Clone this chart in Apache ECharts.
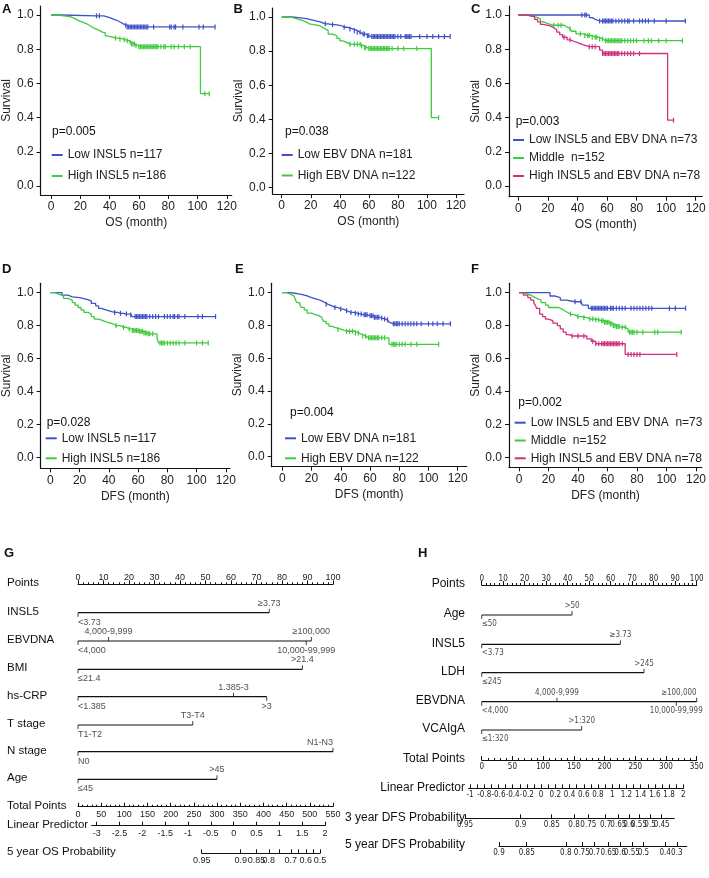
<!DOCTYPE html>
<html><head><meta charset="utf-8">
<script src="https://cdn.jsdelivr.net/npm/echarts@6/dist/echarts.min.js"></script>
<style>html,body{margin:0;padding:0;background:#fff}#c{width:709px;height:878px}</style>
</head><body><div id="c"></div>
<script>
// ===================== DATA =====================
const monthTicks = [0, 20, 40, 60, 80, 100, 120];
const survTicks = [0, 0.2, 0.4, 0.6, 0.8, 1.0];

// Panel A (OS by INSL5)
const A_lowEv = [[7,0.995],[36,0.985],[40,0.975],[43,0.965],[46,0.955],[48,0.945],[50,0.94],[52,0.93]];
const A_lowCens = [31,33,51,52,53,54,55,56,57,58,59,60,61,62,63,64,65,66,70,81,82,84,85,90,101,104,112];
const A_highEv = [[4,0.995],[9,0.99],[13,0.98],[16,0.97],[18,0.96],[21,0.95],[24,0.94],[26,0.93],[28,0.92],[30,0.91],[33,0.90],[35,0.895],[37,0.88],[38,0.87],[42,0.865],[46,0.86],[49,0.855],[51,0.85],[53,0.84],[55,0.83],[58,0.82],[60,0.815],[102,0.54]];
const A_highCens = [44,47,50,52,54,55,56,57,58,60,61,62,63,64,65,66,67,68,69,70,71,72,73,75,77,78,82,84,87,91,95,105,108];
// Panel B (OS by EBV DNA)
const B_lowEv = [[7,0.995],[13,0.99],[17,0.98],[22,0.97],[27,0.96],[32,0.955],[37,0.95],[41,0.94],[45,0.935],[47,0.93],[49,0.92],[52,0.91],[55,0.90],[58,0.89],[61,0.885]];
const B_lowCens = [30,35,43,47,50,52,54,56,57,59,60,62,63,64,65,66,67,68,69,70,71,72,73,74,75,76,77,78,80,82,85,86,87,88,89,95,100,104,108,112,116];
const B_highEv = [[6,0.99],[10,0.98],[14,0.97],[17,0.96],[19,0.95],[26,0.94],[28,0.93],[30,0.92],[32,0.90],[35,0.89],[38,0.875],[40,0.86],[42,0.85],[45,0.84],[55,0.83],[57,0.82],[59,0.815],[103,0.41]];
const B_highCens = [47,50,52,54,55,57,58,60,61,62,63,64,65,66,67,68,69,70,71,72,73,74,76,80,84,93,108];
// Panel C (OS combined)
const C_lowEv = [[48,0.985],[50,0.975],[52,0.965]];
const C_lowCens = [43,45,46,55,57,58,59,60,61,62,63,64,66,68,70,72,74,75,78,82,84,86,88,92,100,113];
const C_midEv = [[6,0.993],[9,0.986],[13,0.975],[15,0.96],[17,0.95],[20,0.94],[31,0.93],[33,0.92],[36,0.905],[39,0.89],[44,0.88],[50,0.87],[54,0.86],[58,0.85]];
const C_midCens = [24,27,29,35,42,45,47,48,50,52,53,55,57,59,60,61,62,63,64,65,66,67,68,69,70,72,74,76,78,80,85,88,90,95,100,111];
const C_highEv = [[6,0.99],[11,0.975],[13,0.96],[15,0.945],[17,0.935],[22,0.925],[24,0.915],[26,0.90],[28,0.885],[30,0.87],[33,0.855],[36,0.845],[38,0.835],[41,0.825],[44,0.815],[55,0.795],[57,0.775],[101,0.385]];
const C_highCens = [31,35,48,50,52,57,58,59,60,61,62,63,64,65,66,67,68,70,72,74,76,78,82,105];
// Panel D (DFS by INSL5)
const D_lowEv = [[8,0.985],[12,0.975],[15,0.97],[20,0.96],[25,0.95],[28,0.935],[31,0.92],[33,0.905],[35,0.895],[38,0.885],[42,0.88],[46,0.875],[50,0.87],[55,0.865],[56,0.855]];
const D_lowCens = [44,48,52,55,58,59,60,61,62,63,64,65,66,68,70,72,74,78,80,82,84,85,87,88,92,101,104,113];
const D_highEv = [[3,0.99],[6,0.98],[9,0.965],[12,0.955],[15,0.94],[17,0.925],[19,0.91],[21,0.895],[23,0.88],[26,0.87],[28,0.855],[30,0.84],[33,0.83],[36,0.82],[39,0.81],[43,0.80],[48,0.79],[52,0.78],[56,0.77],[61,0.765],[64,0.755],[67,0.75],[73,0.72],[74,0.695]];
const D_highCens = [45,50,54,56,57,58,59,60,61,62,63,64,65,66,67,68,70,75,76,77,78,80,82,84,86,88,92,100,104,108];
// Panel E (DFS by EBV DNA)
const E_lowEv = [[5,0.995],[10,0.99],[13,0.98],[17,0.97],[20,0.96],[24,0.95],[27,0.94],[29,0.93],[31,0.92],[34,0.91],[38,0.90],[42,0.89],[45,0.88],[49,0.875],[51,0.87],[55,0.865],[59,0.86],[63,0.85],[67,0.845],[69,0.84],[71,0.835],[73,0.82],[74,0.81]];
const E_lowCens = [30,36,40,44,47,50,52,54,56,57,58,60,61,62,63,64,65,66,68,70,72,76,77,78,79,80,82,84,86,88,90,92,95,100,103,106,110,115];
const E_highEv = [[3,0.99],[6,0.98],[8,0.97],[9,0.955],[10,0.94],[12,0.925],[13,0.91],[15,0.895],[17,0.875],[20,0.865],[23,0.86],[25,0.85],[27,0.84],[28,0.825],[30,0.81],[32,0.795],[34,0.785],[37,0.775],[41,0.765],[50,0.755],[53,0.745],[55,0.735],[58,0.725],[73,0.685]];
const E_highCens = [38,44,46,48,50,52,55,57,59,60,61,62,63,64,65,66,68,70,75,76,77,78,80,82,84,88,92,107];
// Panel F (DFS combined)
const F_lowEv = [[21,0.98],[24,0.97],[28,0.955],[32,0.945],[43,0.925],[47,0.905]];
const F_lowCens = [38,42,49,50,51,52,53,54,55,56,57,58,59,60,62,63,64,66,68,70,72,76,78,80,82,84,86,88,90,102,106,113];
const F_midEv = [[2,0.995],[5,0.985],[8,0.975],[10,0.965],[12,0.955],[15,0.94],[18,0.925],[20,0.91],[27,0.90],[29,0.89],[31,0.88],[33,0.87],[36,0.865],[38,0.855],[42,0.85],[46,0.84],[52,0.835],[55,0.83],[58,0.82],[62,0.81],[64,0.80],[66,0.795],[69,0.79],[73,0.78],[74,0.76]];
const F_midCens = [35,40,44,48,50,52,54,56,57,58,59,60,61,62,63,64,65,66,67,68,70,72,75,76,77,78,80,84,92,94,110];
const F_highEv = [[3,0.985],[6,0.97],[8,0.955],[10,0.94],[11,0.925],[12,0.905],[14,0.87],[16,0.855],[18,0.84],[20,0.83],[23,0.815],[26,0.80],[28,0.78],[30,0.76],[32,0.745],[34,0.737],[46,0.72],[49,0.705],[52,0.69],[72,0.625]];
const F_highCens = [36,40,44,50,52,54,56,57,58,59,60,61,62,63,64,65,66,67,68,70,74,76,78,80,82,107];

// Nomogram G (5-year OS)
const G_vars = [
  {name:'INSL5',   levels:['<3.73','≥3.73'], pts:[0,75]},
  {name:'EBVDNA',  levels:['<4,000','4,000-9,999','10,000-99,999','≥100,000'], pts:[0,12,89.5,91.5]},
  {name:'BMI',     levels:['≤21.4','>21.4'], pts:[0,88]},
  {name:'hs-CRP',  levels:['<1.385','1.385-3','>3'], pts:[0,61,74]},
  {name:'T stage', levels:['T1-T2','T3-T4'], pts:[0,45]},
  {name:'N stage', levels:['N0','N1-N3'], pts:[0,100]},
  {name:'Age',     levels:['≤45','>45'], pts:[0,54.5]}
];
const G_totalMax = 550;
const G_lpLabels = [-3,-2.5,-2,-1.5,-1,-0.5,0,0.5,1,1.5,2];
const G_lpTicks = [-3,-2.5,-2,-1.5,-1,-0.5,0,0.5,1,1.5,2];
const G_lpStart = -3.11;
const G_prob = [
  {name:'5 year OS Probability',
   labels:['0.95','0.9','0.85','0.8','','0.7','','0.6','','0.5'],
   lp:[-0.70,0.154,0.50,0.77,1.0,1.25,1.42,1.58,1.74,1.89]}
];
// Nomogram H (3/5-year DFS)
const H_vars = [
  {name:'Age',    levels:['≤50','>50'], pts:[0,42]},
  {name:'INSL5',  levels:['<3.73','≥3.73'], pts:[0,64.5]},
  {name:'LDH',    levels:['≤245','>245'], pts:[0,75.5]},
  {name:'EBVDNA', levels:['<4,000','4,000-9,999','10,000-99,999','≥100,000'], pts:[0,35,90.5,100]},
  {name:'VCAIgA', levels:['≤1:320','>1:320'], pts:[0,46.5]}
];
const H_totalMax = 350;
const H_lpLabels = [-1,-0.8,-0.6,-0.4,-0.2,0,0.2,0.4,0.6,0.8,1,1.2,1.4,1.6,1.8,2];
const H_lpTicks = [-1,-0.9,-0.8,-0.7,-0.6,-0.5,-0.4,-0.3,-0.2,-0.1,0,0.1,0.2,0.3,0.4,0.5,0.6,0.7,0.8,0.9,1,1.1,1.2,1.3,1.4,1.5,1.6,1.7,1.8,1.9,2];
const H_lpStart = -1.02;
const H_prob = [
  {name:'3 year DFS Probability',
   labels:['0.95','0.9','0.85','0.8','0.75','0.7','0.65','0.6','0.55','0.5','0.45','0.4'],
   lp:[-1.07,-0.287,0.149,0.463,0.664,0.909,1.086,1.236,1.377,1.532,1.696,1.873]},
  {name:'5 year DFS Probability',
   labels:['0.9','0.85','0.8','0.75','0.7','0.65','0.6','0.55','0.5','0.4','0.3','0.25'],
   lp:[-0.592,-0.202,0.347,0.572,0.750,0.947,1.111,1.276,1.439,1.744,1.909,2.049]}
];

// ===================== STYLE / LAYOUT =====================
const FONT = "'Liberation Sans', Arial, sans-serif";
const NARROW = "'Liberation Sans Narrow', 'DejaVu Sans Condensed', sans-serif";
const BLUE = '#3f51c6', GREEN = '#3fca3f', MAGENTA = '#d1307e';
const INK = '#111';
const AX = {color: INK, width: 1};

const panels = [
  {letter:'A', letterXY:[2,3], xName:'OS (month)', p:'p=0.005', pXY:[52,126],
   L:{axisX:37,x0:47.7,x120:226.7,right:231.7,y1:15,y0:186,top:6,bottom:195},
   leg:{left:51.7, top:148, gap:7},
   curves:[{name:'Low INSL5 n=117', color:BLUE, ev:A_lowEv, cens:A_lowCens},
           {name:'High INSL5 n=186', color:GREEN, ev:A_highEv, cens:A_highCens}]},
  {letter:'B', letterXY:[233.5,3], xName:'OS (month)', p:'p=0.038', pXY:[285,126],
   L:{axisX:272.7,x0:281.7,x120:456,right:464,y1:17,y0:187.5,top:8,bottom:194},
   leg:{left:281.7, top:148, gap:6.5},
   curves:[{name:'Low EBV DNA n=181', color:BLUE, ev:B_lowEv, cens:B_lowCens},
           {name:'High EBV DNA n=122', color:GREEN, ev:B_highEv, cens:B_highCens}]},
  {letter:'C', letterXY:[471,3], xName:'OS (month)', p:'p=0.003', pXY:[515.7,115.7],
   L:{axisX:509,x0:518.3,x120:695.7,right:702.3,y1:15,y0:186,top:6,bottom:196.7},
   leg:{left:513, top:133, gap:4},
   curves:[{name:'Low INSL5 and EBV DNA n=73', color:BLUE, ev:C_lowEv, cens:C_lowCens},
           {name:'Middle  n=152', color:GREEN, ev:C_midEv, cens:C_midCens},
           {name:'High INSL5 and EBV DNA n=78', color:MAGENTA, ev:C_highEv, cens:C_highCens}]},
  {letter:'D', letterXY:[2,263], xName:'DFS (month)', p:'p=0.028', pXY:[46.7,416.3],
   L:{axisX:36,x0:46,x120:225.7,right:230,y1:292.7,y0:457.3,top:283.3,bottom:468.3},
   leg:{left:45.7, top:431.3, gap:6},
   curves:[{name:'Low INSL5 n=117', color:BLUE, ev:D_lowEv, cens:D_lowCens},
           {name:'High INSL5 n=186', color:GREEN, ev:D_highEv, cens:D_highCens}]},
  {letter:'E', letterXY:[235,263], xName:'DFS (month)', p:'p=0.004', pXY:[290,407],
   L:{axisX:271.7,x0:282.3,x120:457.7,right:466.7,y1:292.7,y0:456.7,top:283.3,bottom:466.7},
   leg:{left:285, top:431.3, gap:6},
   curves:[{name:'Low EBV DNA n=181', color:BLUE, ev:E_lowEv, cens:E_lowCens},
           {name:'High EBV DNA n=122', color:GREEN, ev:E_highEv, cens:E_highCens}]},
  {letter:'F', letterXY:[471,263], xName:'DFS (month)', p:'p=0.002', pXY:[518.3,397],
   L:{axisX:509,x0:519,x120:696.3,right:702.3,y1:292.7,y0:457.3,top:283.3,bottom:467.3},
   leg:{left:514.7, top:415.7, gap:3.8},
   curves:[{name:'Low INSL5 and EBV DNA  n=73', color:BLUE, ev:F_lowEv, cens:F_lowCens},
           {name:'Middle  n=152 ', color:GREEN, ev:F_midEv, cens:F_midCens},
           {name:'High INSL5 and EBV DNA n=78 ', color:MAGENTA, ev:F_highEv, cens:F_highCens}]}
];

const nomoG = {letter:'G', letterXY:[4,547], vars:G_vars, totalMax:G_totalMax, lpLabels:G_lpLabels, lpTicks:G_lpTicks, lpStart:G_lpStart, prob:G_prob,
  L:{ptsL:78, ptsR:333, lpA:[-3,96.7], lpB:[2,325], nameX:7, nameAlign:'left', fs:9, ff:FONT, nameFs:11.5,
     y:{points:584.3, vars:[612.7,641,669.3,696.7,725,751.7,779.3], total:806.7, lp:825.7, prob:[853.3]}}};
const nomoH = {letter:'H', letterXY:[418,547], vars:H_vars, totalMax:H_totalMax, lpLabels:H_lpLabels, lpTicks:H_lpTicks, lpStart:H_lpStart, prob:H_prob,
  L:{ptsL:481.7, ptsR:696.7, lpA:[-1,470], lpB:[2,683.3], nameX:465, nameAlign:'right', fs:8, ff:NARROW, nameFs:12,
     y:{points:585, vars:[615,644.3,672.7,701.7,730], total:760, lp:788.3, prob:[818.3,846]}}};

// ===================== BUILD =====================
const grids = [], xAxes = [], yAxes = [], series = [], titles = [], legends = [];
function addGrid(g, x, y) { const i = grids.length; grids.push(g); x.gridIndex = i; y.gridIndex = i; xAxes.push(x); yAxes.push(y); return i; }
function text(t, left, top, size, bold) {
  titles.push({text:t, left:left, top:top, padding:0,
    textStyle:{fontSize:size||12, fontWeight:bold?'bold':'normal', color:INK, fontFamily:FONT}});
}
function textRight(t, rightX, top, size) {
  titles.push({text:t, right:709-rightX, top:top, padding:0,
    textStyle:{fontSize:size||12, fontWeight:'normal', color:INK, fontFamily:FONT}});
}

function kmData(ev, cens) {
  const all = ev.map(e => ({t:e[0], s:e[1], c:false})).concat(cens.map(t => ({t:t, c:true})));
  all.sort((a, b) => (a.t - b.t) || ((a.c ? 1 : 0) - (b.c ? 1 : 0)));
  const out = [{value:[0, 1], symbol:'none'}];
  let s = 1;
  all.forEach(a => {
    if (!a.c) { s = a.s; out.push({value:[a.t, s], symbol:'none'}); }
    else out.push({value:[a.t, s]});
  });
  return out;
}

panels.forEach(P => {
  const L = P.L;
  const ppm = (L.x120 - L.x0) / 120, ppu = L.y0 - L.y1;
  const xmin = (L.axisX - L.x0) / ppm, xmax = (L.right - L.x0) / ppm;
  const ymax = (L.y0 - L.top) / ppu, ymin = (L.y0 - L.bottom) / ppu;
  const gi = addGrid({left:L.axisX, top:L.top, width:L.right - L.axisX, height:L.bottom - L.top},
    {type:'value', min:xmin, max:xmax,
     axisLine:{show:true, onZero:false, lineStyle:{color:INK, width:1.2}},
     axisTick:{show:true, customValues:monthTicks, length:4, lineStyle:{color:INK, width:1}},
     axisLabel:{customValues:monthTicks, margin:6, fontSize:12, color:'#222', fontFamily:FONT},
     splitLine:{show:false},
     name:P.xName, nameLocation:'middle', nameGap:22, nameTextStyle:{fontSize:12, color:'#222', fontFamily:FONT}},
    {type:'value', min:ymin, max:ymax,
     axisLine:{show:true, onZero:false, lineStyle:{color:INK, width:1.2}},
     axisTick:{show:true, customValues:survTicks, length:4, lineStyle:{color:INK, width:1}},
     axisLabel:{customValues:survTicks, margin:7, fontSize:12, color:'#222', fontFamily:FONT, formatter:v => v.toFixed(1)},
     splitLine:{show:false},
     name:'Survival', nameLocation:'middle', nameGap:21, nameTextStyle:{fontSize:12, color:'#222', fontFamily:FONT}});
  P.curves.forEach(c => {
    series.push({type:'line', name:c.name, xAxisIndex:gi, yAxisIndex:gi, step:'end',
      data:kmData(c.ev, c.cens), symbol:'rect', symbolSize:[1.2, 5], showAllSymbol:true,
      lineStyle:{color:c.color, width:1.3}, itemStyle:{color:c.color}, emphasis:{disabled:true},
      silent:true, clip:false, z:3});
  });
  legends.push({data:P.curves.map(c => ({name:c.name, icon:'rect'})), orient:'vertical',
    left:P.leg.left, top:P.leg.top, itemGap:P.leg.gap, itemWidth:11, itemHeight:2, padding:0,
    selectedMode:false, textStyle:{fontSize:12, color:'#222', fontFamily:FONT, lineHeight:14}});
  text(P.p, P.pXY[0], P.pXY[1], 12);
  text(P.letter, P.letterXY[0], P.letterXY[1], 13, true);
});

function nomogram(N) {
  const L = N.L;
  const pw = L.ptsR - L.ptsL;
  const lpPx = v => L.lpA[1] + (v - L.lpA[0]) * (L.lpB[1] - L.lpA[1]) / (L.lpB[0] - L.lpA[0]);
  const lab = {fontSize:L.fs, fontFamily:L.ff, color:'#222'};
  const rowName = (t, y) => { if (L.nameAlign === 'left') text(t, L.nameX, y - 7, L.nameFs); else textRight(t, L.nameX, y - 7, L.nameFs); };
  const hiddenY = {type:'value', min:0, max:1, show:false};

  // Points
  addGrid({left:L.ptsL, top:L.y.points, width:pw, height:10},
    {type:'value', min:0, max:100, interval:10, position:'top',
     axisLine:{onZero:false, lineStyle:AX}, axisTick:{length:4, lineStyle:AX},
     minorTick:{show:true, splitNumber:5, length:2, lineStyle:AX},
     axisLabel:Object.assign({margin:2}, lab), splitLine:{show:false}, minorSplitLine:{show:false}},
    Object.assign({}, hiddenY));
  rowName('Points', L.y.points);

  // Variable rows
  N.vars.forEach((v, k) => {
    const y = L.y.vars[k];
    const gi = addGrid({left:L.ptsL, top:y - 10, width:pw, height:20},
      {type:'value', min:0, max:100, show:false}, {type:'value', min:-1, max:1, show:false});
    series.push({type:'line', xAxisIndex:gi, yAxisIndex:gi, data:[[0, 0], [Math.max.apply(null, v.pts), 0]],
      symbol:'none', lineStyle:{color:INK, width:1.2}, silent:true, clip:false});
    series.push({type:'scatter', xAxisIndex:gi, yAxisIndex:gi, symbol:'rect', symbolSize:[1, 4],
      itemStyle:{color:INK}, silent:true, clip:false,
      data:v.pts.map((p, j) => {
        const up = j % 2 === 1;
        return {value:[p, 0], symbolOffset:[0, up ? -2 : 2],
          label:Object.assign({show:true, position:up ? 'top' : 'bottom', distance:1, formatter:v.levels[j],
            align:p === 0 ? 'left' : (p >= 100 ? 'right' : 'center')}, lab)};
      })});
    rowName(v.name, y);
  });

  // Total points
  addGrid({left:L.ptsL, top:L.y.total - 10, width:pw, height:10},
    {type:'value', min:0, max:N.totalMax, interval:50, position:'bottom',
     axisLine:{onZero:false, lineStyle:AX}, axisTick:{inside:true, length:4, lineStyle:AX},
     minorTick:{show:true, splitNumber:5, length:2, lineStyle:AX},
     axisLabel:Object.assign({margin:3}, lab), splitLine:{show:false}, minorSplitLine:{show:false}},
    Object.assign({}, hiddenY));
  rowName('Total Points', L.y.total);

  // Linear predictor
  const lpEnd = N.lpLabels[N.lpLabels.length - 1];
  addGrid({left:lpPx(N.lpStart), top:L.y.lp - 10, width:lpPx(lpEnd) - lpPx(N.lpStart), height:10},
    {type:'value', min:N.lpStart, max:lpEnd, position:'bottom',
     axisLine:{onZero:false, lineStyle:AX}, axisTick:{inside:true, length:4, lineStyle:AX, customValues:N.lpTicks},
     axisLabel:Object.assign({margin:3, customValues:N.lpLabels, formatter:v => String(Math.round(v * 100) / 100)}, lab),
     splitLine:{show:false}},
    Object.assign({}, hiddenY));
  rowName('Linear Predictor', L.y.lp);

  // Probability rows
  N.prob.forEach((pr, k) => {
    const y = L.y.prob[k];
    const a = pr.lp[0], b = pr.lp[pr.lp.length - 1];
    const labeled = pr.lp.filter((v, i) => pr.labels[i] !== '');
    addGrid({left:lpPx(a), top:y - 10, width:lpPx(b) - lpPx(a), height:10},
      {type:'value', min:a, max:b, position:'bottom',
       axisLine:{onZero:false, lineStyle:AX}, axisTick:{inside:true, length:4, lineStyle:AX, customValues:pr.lp},
       axisLabel:Object.assign({margin:3, customValues:labeled, formatter:v => {
         let bi = 0; pr.lp.forEach((q, i) => { if (Math.abs(q - v) < Math.abs(pr.lp[bi] - v)) bi = i; });
         return pr.labels[bi]; }}, lab),
       splitLine:{show:false}},
      Object.assign({}, hiddenY));
    rowName(pr.name, y);
  });
  text(N.letter, N.letterXY[0], N.letterXY[1], 13, true);
}
nomogram(nomoG);
nomogram(nomoH);

const chart = echarts.init(document.getElementById('c'), null, {renderer:'canvas'});
chart.setOption({
  animation:false,
  backgroundColor:'#fff',
  textStyle:{fontFamily:FONT},
  title:titles, legend:legends, grid:grids, xAxis:xAxes, yAxis:yAxes, series:series
});
</script>
</body></html>
